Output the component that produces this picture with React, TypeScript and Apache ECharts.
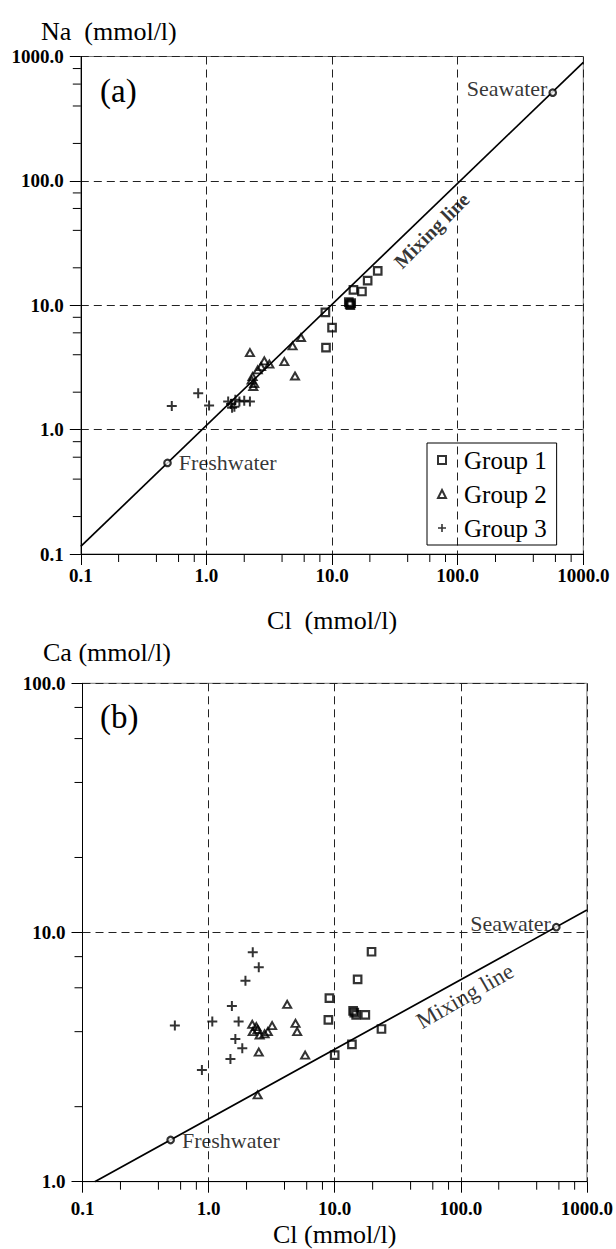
import React, { useEffect, useRef } from 'react';
import * as echarts from 'echarts';

const FONT = 'Liberation Serif';

// ---------- Panel (a): Na vs Cl ----------
const group1A: number[][] = [
  [23.1, 18.9], [19.2, 15.8], [17.3, 12.9], [14.8, 13.3], [13.6, 10.6], [14.0, 10.0],
  [14.2, 10.4], [13.8, 10.2], [8.85, 8.78], [10.0, 6.6], [8.95, 4.56],
];
const group2A: number[][] = [
  [5.66, 5.5], [4.85, 4.71], [2.22, 4.16], [4.17, 3.52], [5.07, 2.7], [2.89, 3.57],
  [3.17, 3.36], [2.72, 3.21], [2.56, 3.02], [2.33, 2.67], [2.29, 2.5], [2.36, 2.22], [2.4, 2.35],
];
const group3A: number[][] = [
  [0.53, 1.55], [0.86, 1.96], [1.05, 1.56], [1.49, 1.68], [1.67, 1.53], [1.83, 1.68],
  [2.0, 1.71], [2.22, 1.68], [1.57, 1.61], [1.7, 1.74], [1.6, 1.5],
];
const mixingLineA: number[][] = [[0.1, 0.115], [1000, 898]];
const endMembersA: number[][] = [[0.49, 0.54], [571, 512]];
const mixingLabelA: number[] = [62, 40];

// ---------- Panel (b): Ca vs Cl ----------
const group1B: number[][] = [
  [19.6, 8.37], [15.2, 6.49], [9.08, 5.45], [8.91, 4.46], [14.3, 4.77], [14.8, 4.67],
  [14.0, 4.85], [17.5, 4.67], [23.5, 4.1], [13.7, 3.56], [10.0, 3.22],
];
const group2B: number[][] = [
  [4.2, 5.15], [4.89, 4.32], [5.04, 4.0], [3.19, 4.23], [2.22, 4.28], [2.39, 4.19],
  [2.24, 4.0], [2.54, 3.88], [2.78, 3.92], [2.45, 4.08], [2.95, 4.0], [2.5, 3.31],
  [5.83, 3.22], [2.45, 2.23],
];
const group3B: number[][] = [
  [2.24, 8.33], [2.5, 7.25], [1.96, 6.41], [1.53, 5.07], [1.07, 4.39], [1.73, 4.39],
  [0.54, 4.23], [1.63, 3.74], [1.85, 3.43], [1.49, 3.11], [0.885, 2.81],
];
const mixingLineB: number[][] = [[0.125, 1.0], [1000, 12.3]];
const endMembersB: number[][] = [[0.5, 1.47], [572, 10.5]];
const mixingLabelB: number[] = [108, 5.56];

const groupNames = ['Group 1', 'Group 2', 'Group 3'];
const endMemberNames = ['Freshwater', 'Seawater'];
const mixingLabelText = 'Mixing line';

// axis extents and minor tick positions
const xRange = [0.1, 1000];
const yRangeA = [0.1, 1000];
const yRangeB = [1, 100];
const decadesX = [0.1, 1, 10, 100];
const decadesYA = [0.1, 1, 10, 100];
const decadesYB = [1, 10];
const minorMultipliers = [2, 4, 6, 8];

const minorValues = (decades: number[]) =>
  decades.flatMap((d) => minorMultipliers.map((m) => +(d * m).toPrecision(3)));

const CROSS = 'path://M4,0H6V10H4ZM0,4H10V6H0Z';

function groupSeries(idx: number, data: number[][][]) {
  const [g1, g2, g3] = data;
  return [
    {
      name: groupNames[0], type: 'scatter', xAxisIndex: idx, yAxisIndex: idx, data: g1,
      symbol: 'rect', symbolSize: 7.5, z: 4,
      itemStyle: { color: 'rgba(0,0,0,0)', borderColor: '#000', borderWidth: 2.2 },
    },
    {
      name: groupNames[1], type: 'scatter', xAxisIndex: idx, yAxisIndex: idx, data: g2,
      symbol: 'triangle', symbolSize: [8, 7], z: 4,
      itemStyle: { color: 'rgba(0,0,0,0)', borderColor: '#000', borderWidth: 2 },
    },
    {
      name: groupNames[2], type: 'scatter', xAxisIndex: idx, yAxisIndex: idx, data: g3,
      symbol: CROSS, symbolSize: 10, z: 4,
      itemStyle: { color: '#000' },
    },
  ];
}

function xMinorTicks(idx: number, yMin: number) {
  return {
    type: 'custom', xAxisIndex: idx, yAxisIndex: idx, silent: true, clip: false, z: 6,
    data: minorValues(decadesX).map((v) => [v, yMin]),
    renderItem: (_p: any, api: any) => {
      const p = api.coord([api.value(0), api.value(1)]);
      return { type: 'line', shape: { x1: p[0], y1: p[1], x2: p[0], y2: p[1] + 8 }, style: { stroke: '#000', lineWidth: 1 } };
    },
  };
}

function yMinorTicks(idx: number, xMin: number, decades: number[]) {
  return {
    type: 'custom', xAxisIndex: idx, yAxisIndex: idx, silent: true, clip: false, z: 6,
    data: minorValues(decades).map((v) => [xMin, v]),
    renderItem: (_p: any, api: any) => {
      const p = api.coord([api.value(0), api.value(1)]);
      return { type: 'line', shape: { x1: p[0] - 8, y1: p[1], x2: p[0], y2: p[1] }, style: { stroke: '#000', lineWidth: 1 } };
    },
  };
}

function mixing(idx: number, line: number[][], ends: number[][], labelPt: number[], rot: number, fs: number, fw: string) {
  return [
    {
      name: 'mixing', type: 'line', xAxisIndex: idx, yAxisIndex: idx, data: line,
      symbol: 'none', silent: true, z: 3, lineStyle: { color: '#000', width: 1.7 },
    },
    {
      name: 'ends', type: 'scatter', xAxisIndex: idx, yAxisIndex: idx, z: 5,
      data: ends.map((v, i) => ({
        value: v,
        label: i === 0
          ? { position: 'right', distance: 7 }
          : { position: 'left', distance: 1, offset: [0, -4] },
      })),
      symbol: 'circle', symbolSize: 6.5,
      itemStyle: { color: '#fff', borderColor: '#000', borderWidth: 2.2 },
      label: {
        show: true, fontFamily: FONT, fontSize: 22, color: '#000',
        formatter: (p: any) => endMemberNames[p.dataIndex],
      },
    },
    {
      name: 'mixlabel', type: 'scatter', xAxisIndex: idx, yAxisIndex: idx, data: [labelPt],
      symbolSize: 1, itemStyle: { color: 'rgba(0,0,0,0)' }, silent: true,
      label: {
        show: true, position: 'inside', rotate: rot, formatter: mixingLabelText,
        fontFamily: FONT, fontSize: fs, fontWeight: fw, color: '#000',
      },
    },
  ];
}

const axisCommon = {
  type: 'log', logBase: 10,
  axisLine: { show: true, onZero: false, lineStyle: { color: '#000', width: 1 } },
  axisTick: { show: true, inside: false, length: 11, lineStyle: { color: '#000' } },
  splitLine: { show: true, lineStyle: { color: '#222', width: 1, type: [8, 5] } },
  minorTick: { show: false },
};

const labelStyle = { fontFamily: FONT, fontSize: 19, fontWeight: 'bold', color: '#000' };
const fmt = (v: number) => v.toFixed(1);
const titleStyle = (fs: number) => ({ fontFamily: FONT, fontSize: fs, fontWeight: 'normal', color: '#000', lineHeight: fs });

export default function App() {
  const ref = useRef<HTMLDivElement>(null);
  useEffect(() => {
    if (!ref.current) return;
    const chart = echarts.init(ref.current, null, { renderer: 'svg' });
    const option: any = {
      animation: false,
      backgroundColor: '#fff',
      textStyle: { fontFamily: FONT },
      title: [
        { text: 'Na  (mmol/l)', left: 41, top: 18, padding: 0, textStyle: titleStyle(26) },
        { text: 'Ca (mmol/l)', left: 43, top: 639, padding: 0, textStyle: titleStyle(26) },
        { text: '(a)', left: 100, top: 74, padding: 0, textStyle: titleStyle(33) },
        { text: '(b)', left: 100, top: 700, padding: 0, textStyle: titleStyle(33) },
      ],
      legend: {
        data: groupNames, orient: 'vertical', left: 427, top: 443,
        borderColor: '#000', borderWidth: 1, padding: [2, 10, 2, 10],
        itemWidth: 8, itemHeight: 8, itemGap: 4, selectedMode: false,
        textStyle: { fontFamily: FONT, fontSize: 25, color: '#000', lineHeight: 30, padding: [0, 0, 0, 13] },
      },
      grid: [
        { left: 80.8, top: 56.5, width: 502.5, height: 497.5, show: true, borderColor: '#777', borderWidth: 1, containLabel: false },
        { left: 82.5, top: 683.3, width: 505.5, height: 498.4, show: true, borderColor: '#777', borderWidth: 1, containLabel: false },
      ],
      xAxis: [
        {
          ...axisCommon, gridIndex: 0, min: xRange[0], max: xRange[1],
          axisLabel: { ...labelStyle, margin: 12, formatter: fmt },
          name: 'Cl  (mmol/l)', nameLocation: 'middle', nameGap: 53,
          nameTextStyle: titleStyle(26),
        },
        {
          ...axisCommon, gridIndex: 1, min: xRange[0], max: xRange[1],
          axisLabel: { ...labelStyle, margin: 17, formatter: fmt },
          name: 'Cl (mmol/l)', nameLocation: 'middle', nameGap: 40,
          nameTextStyle: titleStyle(26),
        },
      ],
      yAxis: [
        { ...axisCommon, gridIndex: 0, min: yRangeA[0], max: yRangeA[1], axisLabel: { ...labelStyle, margin: 17, formatter: fmt } },
        { ...axisCommon, gridIndex: 1, min: yRangeB[0], max: yRangeB[1], axisLabel: { ...labelStyle, margin: 17, formatter: fmt } },
      ],
      series: [
        ...mixing(0, mixingLineA, endMembersA, mixingLabelA, 45, 20, 'bold'),
        ...mixing(1, mixingLineB, endMembersB, mixingLabelB, 30, 23, 'normal'),
        ...groupSeries(0, [group1A, group2A, group3A]),
        ...groupSeries(1, [group1B, group2B, group3B]),
        xMinorTicks(0, yRangeA[0]),
        yMinorTicks(0, xRange[0], decadesYA),
        xMinorTicks(1, yRangeB[0]),
        yMinorTicks(1, xRange[0], decadesYB),
      ],
    };
    chart.setOption(option);
    return () => chart.dispose();
  }, []);
  return <div ref={ref} style={{ position: 'absolute', left: 0, top: 0, width: 616, height: 1249, fontFamily: 'Liberation Serif' }} />;
}
